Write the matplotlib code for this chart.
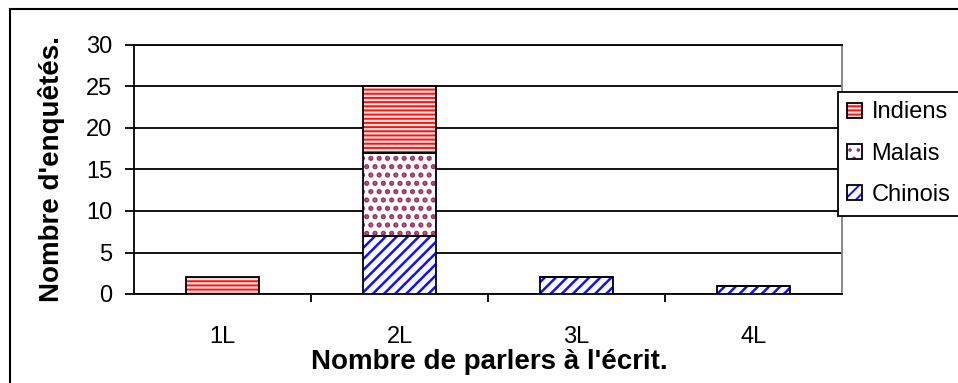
import matplotlib
matplotlib.use("Agg")
import matplotlib.pyplot as plt
from matplotlib.patches import Patch, Rectangle
import numpy as np

plt.rcParams['font.family'] = ['Liberation Sans', 'DejaVu Sans']
plt.rcParams['hatch.linewidth'] = 2.0

categories = ["1L", "2L", "3L", "4L"]
chinois = [0, 7, 2, 1]
malais = [0, 10, 0, 0]
indiens = [2, 8, 0, 0]
yticks = [0, 5, 10, 15, 20, 25, 30]

fig = plt.figure(figsize=(9.58, 3.83), dpi=100)
L, R, T, B = 134, 842, 45, 294
ax = fig.add_axes([L/958, 1-B/383, (R-L)/958, (B-T)/383])

x = np.arange(len(categories))
w = 0.41

series = [
    ("Chinois", chinois, "#ffffff", "#1010ff", "///", 1.8),
    ("Malais", malais, "#ffffff", "#993366", "..", 2.5),
    ("Indiens", indiens, "#ffe4e4", "#ff1010", "----", 1.4),
]
bottom = np.zeros(len(categories))
handles = {}
for name, vals, fc, hc, hatch, hlw in series:
    plt.rcParams['hatch.linewidth'] = hlw
    vals = np.array(vals, dtype=float)
    bars = ax.bar(x, vals, w, bottom=bottom, color=fc, edgecolor=hc, hatch=hatch, linewidth=0, zorder=3)
    for b in bars:
        try:
            b.set_hatch_linewidth(hlw)
        except Exception:
            pass
    ax.bar(x, vals, w, bottom=bottom, fill=False, edgecolor='black', linewidth=1.3, zorder=4)
    bottom += vals
    hp = Patch(facecolor=fc, edgecolor=hc, hatch=hatch, linewidth=0)
    try:
        hp.set_hatch_linewidth(hlw)
    except Exception:
        pass
    handles[name] = (hp, Patch(fill=False, edgecolor='black', linewidth=1.3))

ax.set_xlim(-0.5, 3.5)
ax.set_ylim(0, 30)
ax.set_yticks(yticks)
ax.set_yticklabels([str(v) for v in yticks], fontsize=17)
ax.set_xticks(x)
ax.set_xticklabels(categories, fontsize=17)
ax.tick_params(axis='x', which='major', length=0, pad=23)
ax.set_xticks(np.arange(0.5, 3.5, 1), minor=True)
ax.tick_params(axis='x', which='minor', length=6, width=1.3, direction='out')
ax.tick_params(axis='y', length=6.5, width=1.3, direction='out', pad=9)
ax.yaxis.grid(True, color='black', linewidth=1.3, zorder=0)
ax.set_axisbelow(True)
for s in ax.spines.values():
    s.set_linewidth(1.3)
    s.set_color('black')
ax.spines['right'].set_color('#808080')

fig.text(51.5/958, 1-169.5/383, "Nombre d'enquêtés.", rotation=90, ha='center', va='center',
         fontsize=20, fontweight='bold')
fig.text(489.5/958, 1-362/383, "Nombre de parlers à l'écrit.", ha='center', va='center',
         fontsize=20, fontweight='bold')

leg = fig.legend([handles["Indiens"], handles["Malais"], handles["Chinois"]],
                 ["Indiens", "Malais", "Chinois"],
                 loc='upper left', bbox_to_anchor=(838/958, 1-92/383),
                 fontsize=17, frameon=True, fancybox=False, edgecolor='black', framealpha=1,
                 handlelength=0.6, handleheight=0.6, handletextpad=0.42,
                 borderpad=0.4, labelspacing=0.82, borderaxespad=0)
leg.get_frame().set_linewidth(1.3)

fig.patches.append(Rectangle((10/958, -0.01), 1.0, 1-9/383+0.01, transform=fig.transFigure,
                             fill=False, edgecolor='black', linewidth=1.5))

fig.savefig("out.png", dpi=100)
